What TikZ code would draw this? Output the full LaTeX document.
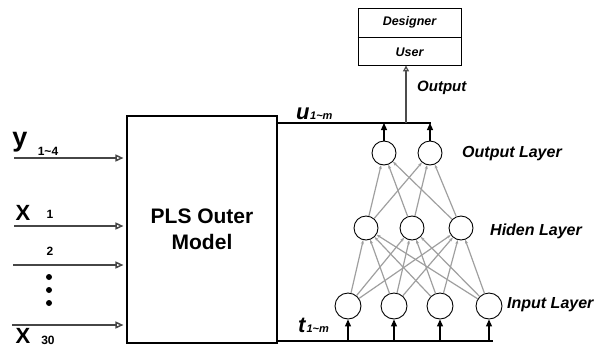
\documentclass[tikz,border=0pt]{standalone}
\usepackage{fontspec}
\setmainfont{Liberation Sans}
\usetikzlibrary{arrows.meta}
\begin{document}
\begin{tikzpicture}[x=1pt,y=-1pt,
  neuron/.style={circle,draw,line width=0.9pt,minimum size=24pt,inner sep=0pt},
  graylink/.style={draw=gray!75,line width=1.2pt,-{Stealth[length=4pt,width=3pt]}},
  blacklink/.style={draw=black,line width=1.1pt,-{Triangle[length=7pt,width=6pt]}},
  inlink/.style={draw=gray!55!black,line width=1.5pt,-{Triangle[open,length=8pt,width=7pt]}},
  bus/.style={draw=black,line width=1.6pt},
  lbl/.style={font=\bfseries\itshape\fontsize{15}{17}\selectfont,anchor=west,inner sep=0pt},
  sym/.style={font=\bfseries\fontsize{22}{24}\selectfont,inner sep=0pt},
  sub/.style={font=\bfseries\fontsize{12}{14}\selectfont,inner sep=0pt}]
\useasboundingbox (0,0) rectangle (601,349);
% PLS box
\node[draw,line width=1.1pt,minimum width=150pt,minimum height=227pt,inner sep=0pt,
  align=center,font=\bfseries\fontsize{21}{26}\selectfont] (pls) at (202,229.5) {PLS Outer\\Model};
% designer/user box
\node[draw,line width=0.9pt,minimum width=103pt,minimum height=57pt,inner sep=0pt] (du) at (409.5,36.5) {};
\draw[line width=0.9pt] (du.west |- 0,37) -- (du.east |- 0,37);
\node[font=\bfseries\itshape\fontsize{12.5}{14}\selectfont] (des) at (409.5,22) {Designer};
\node[font=\bfseries\itshape\fontsize{12.5}{14}\selectfont] (usr) at (409.5,52) {User};
% bus lines
\coordinate (uR) at (431,123);
\coordinate (tR) at (493,341);
\coordinate (uS) at (406,123);
\draw[bus] (pls.east |- uR) -- (uR);
\draw[bus] (pls.east |- tR) -- (tR);
\draw[draw=gray!60!black,line width=1.3pt,-{Triangle[open,length=6pt,width=6pt]}] (uS) -- (du.south -| uS);
\node[lbl] (outl) at (417,88) {Output};
\node[font=\bfseries\itshape\fontsize{22}{24}\selectfont,anchor=base west,inner sep=0pt] (ulab) at (296,119) {u\kern0.5pt{\fontsize{11}{12}\selectfont 1\textasciitilde m}};
\node[font=\bfseries\itshape\fontsize{22}{24}\selectfont,anchor=base west,inner sep=0pt] (tlab) at (298,332) {t\kern1pt{\fontsize{11}{12}\selectfont 1\textasciitilde m}};
% neurons
\node[neuron] (o1) at (384,153) {};
\node[neuron] (o2) at (430,153) {};
\node[neuron] (h1) at (366,228) {};
\node[neuron] (h2) at (412,228) {};
\node[neuron] (h3) at (461,228) {};
\node[neuron,minimum size=26pt] (i1) at (348,306) {};
\node[neuron,minimum size=26pt] (i2) at (394,306) {};
\node[neuron,minimum size=26pt] (i3) at (440,306) {};
\node[neuron,minimum size=26pt] (i4) at (489,306) {};
% layer labels
\node[lbl,font=\bfseries\itshape\fontsize{16}{18}\selectfont] (ol) at (462,154) {Output Layer};
\node[lbl,font=\bfseries\itshape\fontsize{16}{18}\selectfont] (hl) at (490,231) {Hiden Layer};
\node[lbl,font=\bfseries\itshape\fontsize{16}{18}\selectfont] (il) at (507,305) {Input Layer};
% connections
\foreach \i in {i1,i2,i3,i4}{\foreach \h in {h1,h2,h3}{\draw[graylink] (\i) -- (\h);}}
\foreach \h in {h1,h2,h3}{\foreach \o in {o1,o2}{\draw[graylink] (\h) -- (\o);}}
\foreach \o in {o1,o2}{\draw[blacklink] (\o.north) -- (\o |- uR);}
\foreach \i in {i1,i2,i3,i4}{\draw[blacklink] (\i |- tR) -- (\i.south);}
% left inputs
\coordinate (a1) at (14,158); \coordinate (a2) at (14,226);
\coordinate (a3) at (13,265); \coordinate (a4) at (12,325);
\draw[inlink] (a1) -- ([xshift=-3pt]pls.west |- a1);
\draw[inlink] (a2) -- ([xshift=-3pt]pls.west |- a2);
\draw[inlink] (a3) -- ([xshift=-3pt]pls.west |- a3);
\draw[inlink] (a4) -- ([xshift=-3pt]pls.west |- a4);
\node[sym,font=\bfseries\fontsize{27}{28}\selectfont] (ys) at (20,142) {y};
\node[sub] (ysub) at (48,151) {1\textasciitilde 4};
\node[sym] (x1) at (23,213) {X};
\node[sub] (x1s) at (50,214) {1};
\node[sub] (x2s) at (50,251) {2};
\foreach \yy in {277,290,303}{\fill (49,\yy) circle (3pt);}
\node[sym] (x30) at (23,336) {X};
\node[sub] (x30s) at (48,340) {30};
\end{tikzpicture}
\end{document}
